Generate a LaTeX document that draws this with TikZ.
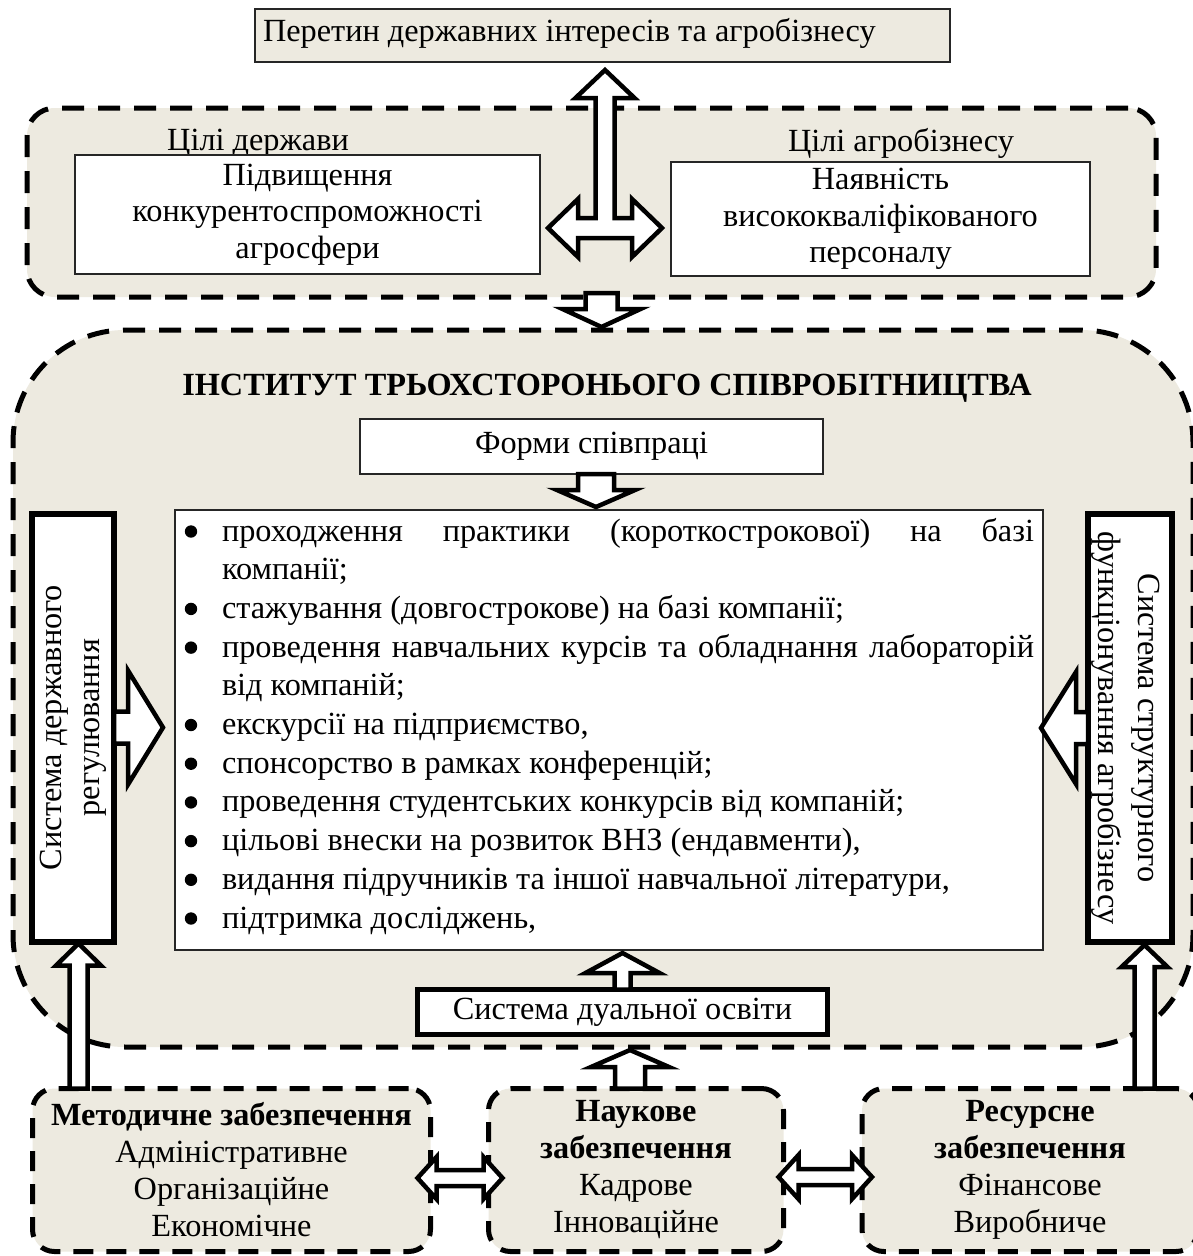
\documentclass[tikz,border=0pt]{standalone}
\usepackage{fontspec}
\setmainfont{Liberation Serif}
\usetikzlibrary{calc}
\definecolor{beige}{RGB}{237,234,224}
\newcommand\blkup[5]{\draw[barrow] let \p1=(#1),\p2=(#2) in (\x2-#3,\y1) -- (\x2-#3,\y2-#5) -- (\x2-#4,\y2-#5) -- (\x2,\y2) -- (\x2+#4,\y2-#5) -- (\x2+#3,\y2-#5) -- (\x2+#3,\y1) -- cycle;}
\newcommand\blkdown[5]{\draw[barrow] let \p1=(#1),\p2=(#2) in (\x2-#3,\y1) -- (\x2-#3,\y2+#5) -- (\x2-#4,\y2+#5) -- (\x2,\y2) -- (\x2+#4,\y2+#5) -- (\x2+#3,\y2+#5) -- (\x2+#3,\y1) -- cycle;}
\newcommand\blkright[5]{\draw[barrow] let \p1=(#1),\p2=(#2) in (\x1,\y2+#3) -- (\x2-#5,\y2+#3) -- (\x2-#5,\y2+#4) -- (\x2,\y2) -- (\x2-#5,\y2-#4) -- (\x2-#5,\y2-#3) -- (\x1,\y2-#3) -- cycle;}
\newcommand\blkleft[5]{\draw[barrow] let \p1=(#1),\p2=(#2) in (\x1,\y2+#3) -- (\x2+#5,\y2+#3) -- (\x2+#5,\y2+#4) -- (\x2,\y2) -- (\x2+#5,\y2-#4) -- (\x2+#5,\y2-#3) -- (\x1,\y2-#3) -- cycle;}
\newcommand\blkdouble[5]{\draw[barrow] let \p1=(#1),\p2=(#2) in (\x1,\y1) -- (\x1+#5,\y1+#4) -- (\x1+#5,\y1+#3) -- (\x2-#5,\y1+#3) -- (\x2-#5,\y1+#4) -- (\x2,\y1) -- (\x2-#5,\y1-#4) -- (\x2-#5,\y1-#3) -- (\x1+#5,\y1-#3) -- (\x1+#5,\y1-#4) -- cycle;}
\newcommand\bitem[1]{\hbox{\hspace*{38pt}#1}}
\newcommand\bfull[1]{\hbox{\hspace*{38pt}\makebox[812pt][s]{#1}}}
\begin{document}
\begin{tikzpicture}[x=1pt,y=-1pt,
  every node/.style={font=\fontsize{32.3}{37}\selectfont, inner sep=0pt, outer sep=0pt},
  region/.style={draw, fill=beige, line width=5pt, dash pattern=on 22pt off 14pt},
  thinbox/.style={draw=black!85, line width=1.6pt},
  thickbox/.style={draw, fill=white, line width=6pt},
  supbox/.style={region, rounded corners=22pt, minimum height=163pt, align=center, dash pattern=on 20pt off 13pt},
  barrow/.style={draw, fill=white, line width=4.5pt, line join=miter, miter limit=10},
]
\useasboundingbox (0,0) rectangle (1192,1256);
\fill[white] (0,0) rectangle (1192,1256);

% regions
\node[region, rounded corners=112pt, minimum width=1180pt, minimum height=717pt] (big) at (603,688.5) {};
\node[region, rounded corners=28pt, minimum width=1129pt, minimum height=189pt] (upper) at (591.5,202.5) {};

% top
\node[thinbox, fill=beige, minimum width=695pt, minimum height=53pt] (top) at (602.5,35.5) {};
\node[anchor=west] (toptext) at (263,33) {Перетин державних інтересів та агробізнесу};

% goals
\node (gstate) at (258,143) {Цілі держави};
\node (gbiz) at (901,143) {Цілі агробізнесу};
\node[thinbox, fill=white, minimum width=465pt, minimum height=119pt, align=center, font=\fontsize{32.3}{36.5}\selectfont] (goalL) at (307.5,214.5) {Підвищення\\конкурентоспроможності\\агросфери};
\node[thinbox, fill=white, minimum width=419pt, minimum height=114pt, align=center, font=\fontsize{32.3}{36.5}\selectfont] (goalR) at (880.5,219) {Наявність\\висококваліфікованого\\персоналу};

% institute
\node[font=\fontsize{32.3}{37}\selectfont\bfseries] (title) at (607,388) {ІНСТИТУТ ТРЬОХСТОРОНЬОГО СПІВРОБІТНИЦТВА};
\node[thinbox, fill=white, minimum width=463pt, minimum height=55pt] (forms) at (591.5,446.5) {Форми співпраці};
\node[thinbox, fill=white, minimum width=868pt, minimum height=440pt] (list) at (609,730) {};
\node[anchor=base west] (items) at (184,541) {\vtop{\baselineskip=38.7pt
  \bfull{проходження практики (короткострокової) на базі}
  \bitem{компанії;}
  \bitem{стажування (довгострокове) на базі компанії;}
  \bfull{проведення навчальних курсів та обладнання лабораторій}
  \bitem{від компаній;}
  \bitem{екскурсії на підприємство,}
  \bitem{спонсорство в рамках конференцій;}
  \bitem{проведення студентських конкурсів від компаній;}
  \bitem{цільові внески на розвиток ВНЗ (ендавменти),}
  \bitem{видання підручників та іншої навчальної літератури,}
  \bitem{підтримка досліджень,}}};
% bullets
\foreach \k in {0,2,3,5,6,7,8,9,10}
  \fill ($(items.base west)+(7,{38.7*\k-9.5})$) circle[radius=6.2pt];

\node[thickbox, minimum width=82pt, minimum height=428pt] (vleft) at (73,727.5) {};
\node[rotate=90, align=center, font=\fontsize{32.3}{38}\selectfont] (vlefttext) at (73,727.5) {Система державного\\регулювання};
\node[thickbox, minimum width=84pt, minimum height=428pt] (vright) at (1130,728) {};
\node[rotate=-90, align=center, font=\fontsize{32.3}{40}\selectfont] (vrighttext) at (1126,728) {Система структурного\\функціонування агробізнесу};

\node[thickbox, line width=5pt, minimum width=410pt, minimum height=45pt] (dual) at (622.5,1012) {Система дуальної освіти};

% support boxes
\node[supbox, minimum width=398pt] (meth) at (231.5,1170) {\textbf{Методичне забезпечення}\\Адміністративне\\Організаційне\\Економічне};
\node[supbox, minimum width=295pt] (nauk) at (636,1170) {\textbf{Наукове}\\\textbf{забезпечення}\\Кадрове\\Інноваційне};
\node[supbox, minimum width=336pt] (res) at (1030,1170) {\textbf{Ресурсне}\\\textbf{забезпечення}\\Фінансове\\Виробниче};

% T arrow
\coordinate (hub) at (605,228);
\draw[barrow, shift={(hub)}] (0,-158) -- (29.5,-130) -- (9.5,-130) -- (9.5,-10) -- (27,-10) -- (27,-29) -- (57,0) -- (27,29) -- (27,10) -- (-27,10) -- (-27,29) -- (-57,0) -- (-27,-29) -- (-27,-10) -- (-9.5,-10) -- (-9.5,-130) -- (-29.5,-130) -- cycle;

% block arrows
\coordinate (d1b) at ($(upper.south)+(10,-4)$);
\coordinate (d1t) at ($(upper.south |- big.north)+(10,-3)$);
\blkdown{d1b}{d1t}{16pt}{39pt}{18pt}
\coordinate (d2b) at ($(forms.south)+(4.5,0)$);
\coordinate (d2t) at ($(forms.south |- list.north)+(4.5,-3)$);
\blkdown{d2b}{d2t}{18pt}{39pt}{17pt}
\coordinate (r1t) at ($(vleft.east -| list.west)+(-12,0)$);
\blkright{vleft.east}{r1t}{16pt}{57pt}{35pt}
\coordinate (l1t) at ($(vright.west -| list.east)+(-2,0)$);
\blkleft{vright.west}{l1t}{16pt}{56pt}{35pt}
\coordinate (u1b) at ($(vleft.south |- meth.north)+(5.5,0)$);
\coordinate (u1t) at ($(vleft.south)+(5.5,2)$);
\blkup{u1b}{u1t}{9pt}{22.5pt}{22pt}
\coordinate (u2b) at ($(vright.south |- res.north)+(14.5,0)$);
\coordinate (u2t) at ($(vright.south)+(14.5,3)$);
\blkup{u2b}{u2t}{10pt}{23pt}{22pt}
\coordinate (u3t) at ($(dual.north |- list.south)+(0,3)$);
\blkup{dual.north}{u3t}{8pt}{37pt}{20pt}
\coordinate (u4b) at ($(nauk.north)+(-6,0)$);
\coordinate (u4t) at ($(nauk.north |- big.south)+(-6,3)$);
\blkup{u4b}{u4t}{15pt}{39pt}{17pt}
\coordinate (h1l) at ($(meth.east)+(-13,8)$);
\coordinate (h1r) at ($(nauk.west)+(14,8)$);
\blkdouble{h1l}{h1r}{8pt}{21pt}{19pt}
\coordinate (h2l) at ($(nauk.east)+(-5,7)$);
\coordinate (h2r) at ($(res.west)+(10,7)$);
\blkdouble{h2l}{h2r}{8pt}{22pt}{20pt}
\end{tikzpicture}
\end{document}
